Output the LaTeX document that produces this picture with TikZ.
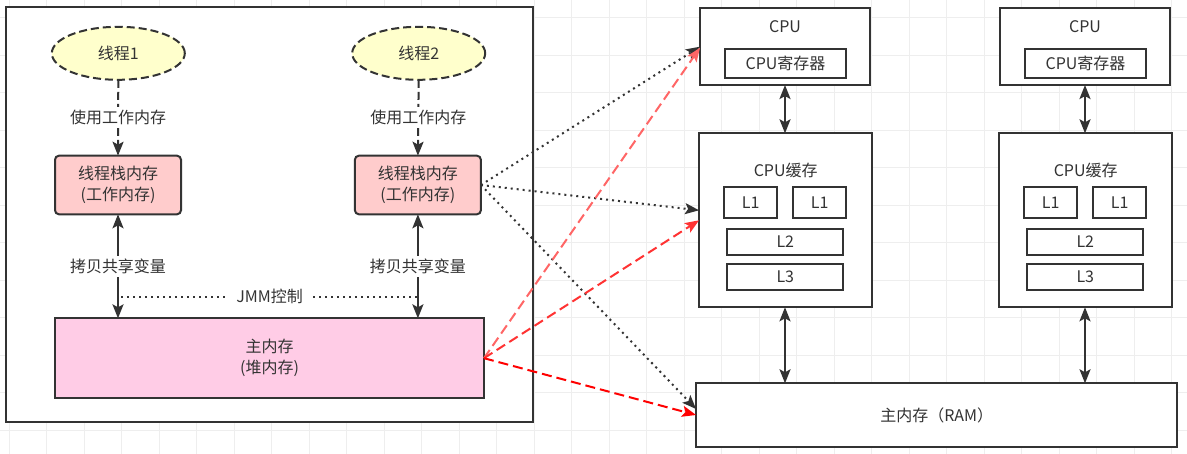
\documentclass[tikz,border=0pt]{standalone}
\usepackage{fontspec}
\setmainfont{Noto Sans CJK SC}
\usetikzlibrary{shapes.geometric,arrows.meta}
\definecolor{strokec}{HTML}{333333}
\definecolor{gridc}{HTML}{EEEEEE}
\definecolor{yelc}{HTML}{FFFFCC}
\definecolor{pinkA}{HTML}{FFCCCC}
\definecolor{pinkB}{HTML}{FFCCE6}
\definecolor{redA}{HTML}{FF6666}
\definecolor{redB}{HTML}{FF3333}
\definecolor{redC}{HTML}{FF0000}
\begin{document}
\begin{tikzpicture}[x=1pt,y=-1pt,
  every node/.style={font=\fontsize{16}{21}\selectfont, text=strokec},
  box/.style={draw=strokec, line width=2pt, fill=white, inner sep=0pt, outer sep=0pt, rectangle, align=center},
  ell/.style={ellipse, draw=strokec, line width=2pt, fill=yelc, dash pattern=on 8pt off 4pt, inner sep=0pt, outer sep=0pt, minimum width=133pt, minimum height=53pt},
  stackbox/.style={box, fill=pinkA, rounded corners=4pt, minimum width=126pt, minimum height=58.6pt},
  lbl/.style={fill=white, inner sep=3pt},
  tipA/.style={Stealth[length=14pt,width=11pt,inset=3pt]},
  arr/.style={draw=strokec, line width=2pt, -{Stealth[length=14pt,width=11pt,inset=3pt]}},
  darr/.style={draw=strokec, line width=2pt, {Stealth[length=14pt,width=11pt,inset=3pt]}-{Stealth[length=14pt,width=11pt,inset=3pt]}},
  dashedarr/.style={arr, dash pattern=on 8pt off 4pt},
  dotarr/.style={arr, dash pattern=on 2pt off 4pt},
  redarr/.style={line width=2pt, dash pattern=on 10pt off 5pt, -{Stealth[length=14pt,width=11pt,inset=3pt]}},
]
\fill[white] (0,0) rectangle (1187,454);
\useasboundingbox (0,0) rectangle (1187,454);
% background grid
\foreach \i in {0,...,31} \draw[gridc, line width=1pt] ({9.2+37.5*\i},0) -- ({9.2+37.5*\i},454);
\foreach \j in {0,...,11} \draw[gridc, line width=1pt] (0,{18+37.5*\j}) -- (1187,{18+37.5*\j});

% ---------- left: JMM ----------
\node[box, minimum width=527pt, minimum height=415pt] (outer) at (269.5,214.8) {};
\node[ell] (e1) at (118.3,53.3) {线程1};
\node[ell] (e2) at (418.7,53.3) {线程2};
\node[stackbox] (s1) at (118,185) {线程栈内存\\(工作内存)};
\node[stackbox] (s2) at (417.9,185) {线程栈内存\\(工作内存)};
\node[box, fill=pinkB, minimum width=429pt, minimum height=79.7pt] (mm) at (269.5,358.2) {主内存\\(堆内存)};

\draw[dashedarr] (e1.south) -- node[lbl]{使用工作内存} (s1.north);
\draw[dashedarr] (e2.south) -- node[lbl]{使用工作内存} (s2.north);
\draw[darr] (s1.south) -- node[lbl]{拷贝共享变量} (s1.south |- mm.north);
\draw[darr] (s2.south) -- node[lbl]{拷贝共享变量} (s2.south |- mm.north);
\coordinate (jl) at (121,296.7);
\coordinate (jr) at (418.3,296.7);
\draw[draw=strokec, line width=2pt, dash pattern=on 2pt off 4pt] (jl) -- node[lbl, inner xsep=7pt]{JMM控制} (jr);

% ---------- right: hardware ----------
\foreach \n/\dx in {1/0,2/300}{
  \node[box, minimum width=170pt, minimum height=76.7pt] (cpu\n) at ({785+\dx},46.7) {};
  \node (cpuT\n) at ({785+\dx},26.7) {CPU};
  \node[box, minimum width=121pt, minimum height=28.4pt] (reg\n) at ({785.5+\dx},63.5) {CPU寄存器};
  \node[box, minimum width=173.3pt, minimum height=174pt] (cache\n) at ({785.7+\dx},220.3) {};
  \node (cacheT\n) at ({785.7+\dx},170) {CPU缓存};
  \node[box, minimum width=53.3pt, minimum height=30.7pt] (la\n) at ({750.7+\dx},202.7) {L1};
  \node[box, minimum width=52.7pt, minimum height=30.7pt] (lb\n) at ({819.7+\dx},202.7) {L1};
  \node[box, minimum width=116pt, minimum height=26pt] (lc\n) at ({785.3+\dx},242) {L2};
  \node[box, minimum width=116pt, minimum height=26pt] (ld\n) at ({785.3+\dx},277) {L3};
}
\node[box, minimum width=481.3pt, minimum height=63.4pt] (ram) at (936.7,415) {主内存（RAM）};
\foreach \n in {1,2}{
  \draw[darr] (cpu\n.south) -- (cpu\n.south |- cache\n.north);
  \draw[darr] (cpu\n.south |- cache\n.south) -- (cpu\n.south |- ram.north);
}

% ---------- cross connectors ----------
\draw[dotarr] (s2.east) -- (cpu1.west);
\draw[dotarr] (s2.east) -- ([yshift=10pt]cache1.west);
\draw[dotarr] (s2.east) -- ([yshift=6pt]ram.west);
\draw[redarr, draw=redA, -{Stealth[length=14pt,width=11pt,inset=3pt,fill=redA]}] (mm.east) -- ([yshift=-1pt]cpu1.west);
\draw[redarr, draw=redB] (mm.east) -- (cache1.west);
\draw[redarr, draw=redC] (mm.east) -- (ram.west);
\end{tikzpicture}
\end{document}
